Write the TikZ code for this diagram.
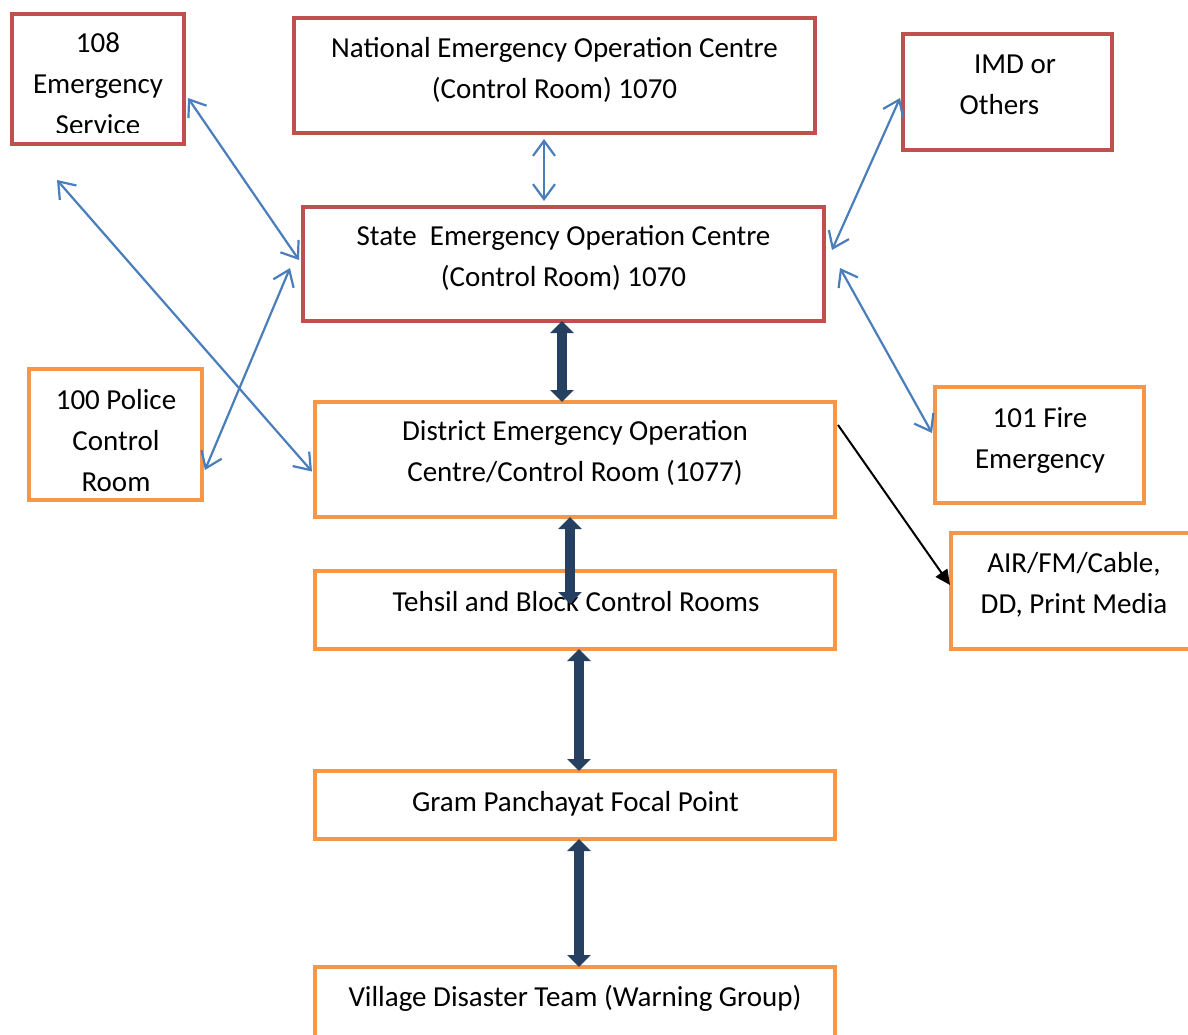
\documentclass[tikz,border=0pt]{standalone}
\usepackage{fontspec}
\setmainfont{Carlito}
\usetikzlibrary{arrows.meta,calc}
\definecolor{boxred}{HTML}{C0504D}
\definecolor{boxorange}{HTML}{F79646}
\definecolor{linkblue}{HTML}{4A7EBB}
\definecolor{navy}{HTML}{264061}
\begin{document}
\begin{tikzpicture}[x=1pt,y=-1pt,
  redbox/.style={draw=boxred,line width=4pt,inner sep=0pt,outer sep=0pt},
  orangebox/.style={draw=boxorange,line width=4pt,inner sep=0pt,outer sep=0pt},
  txt/.style={inner sep=0pt,align=center,anchor=base,font=\fontsize{29pt}{41pt}\selectfont},
  bluearrow/.style={draw=linkblue,line width=2.2pt,{Straight Barb[length=15pt,width=22pt]}-{Straight Barb[length=15pt,width=22pt]}},
  thickarrow/.style={draw=navy,line width=10pt,{Triangle[length=12pt,width=23pt]}-{Triangle[length=12pt,width=23pt]}},
  blackarrow/.style={draw=black,line width=2pt,-{Triangle[length=15pt,width=14pt]}}
]
\useasboundingbox (0,0) rectangle (1188,1034);
% boxes
\node[redbox,minimum width=172pt,minimum height=130pt] (n108) at (98,79) {};
\node[redbox,minimum width=521pt,minimum height=115pt] (nat) at (554.5,75.5) {};
\node[redbox,minimum width=209pt,minimum height=116pt] (imd) at (1007.5,92) {};
\node[redbox,minimum width=521pt,minimum height=114pt] (state) at (563.5,264) {};
\node[orangebox,minimum width=173pt,minimum height=131pt] (police) at (115.5,434.5) {};
\node[orangebox,minimum width=520pt,minimum height=115pt] (dist) at (575,459.5) {};
\node[orangebox,minimum width=209pt,minimum height=116pt] (fire) at (1039.5,445) {};
\node[orangebox,minimum width=249pt,minimum height=116pt] (air) at (1075.5,591) {};
\node[orangebox,minimum width=520pt,minimum height=78pt] (tehsil) at (575,610) {};
\node[orangebox,minimum width=520pt,minimum height=68pt] (gram) at (575,805) {};
\node[orangebox,minimum width=520pt,minimum height=93pt] (village) at (575,1013.5) {};
% texts (base anchor = baseline of last line)
\begin{scope}
\clip (0,0) rectangle (1188,132);
\node[txt] (t108) at (98,134) {108\\Emergency\\Service};
\end{scope}
\node[txt] (tnat) at (554.5,98) {National Emergency Operation Centre\\(Control Room) 1070};
\node[txt] (timd) at (999.5,114) {\hspace*{31pt}IMD or\\Others};
\node[txt] (tstate) at (563.5,286) {State\ \ Emergency Operation Centre\\(Control Room) 1070};
\node[txt] (tpolice) at (116,491) {100 Police\\Control\\Room};
\node[txt] (tdist) at (575,481) {District Emergency Operation\\Centre/Control Room (1077)};
\node[txt] (tfire) at (1040,468) {101 Fire\\Emergency};
\node[txt] (tair) at (1074,613) {AIR/FM/Cable,\\DD, Print Media};
\node[txt] (ttehsil) at (576,611) {Tehsil and Block Control Rooms};
\node[txt] (tgram) at (575.5,811) {Gram Panchayat Focal Point};
\node[txt] (tvillage) at (575,1006) {Village Disaster Team (Warning Group)};
% connectors
\coordinate (free) at (57,180);
\draw[bluearrow] ($(nat.south)+(-10.5,6)$) -- ($(state.north)+(-19.5,-6)$);
\draw[bluearrow] ($(n108.east)+(4,19)$) -- ($(state.west)+(-4,-4)$);
\draw[bluearrow] (free) -- ($(dist.west)+(-3,12)$);
\draw[bluearrow] ($(police.east)+(3,35.5)$) -- ($(state.west)+(-13,4)$);
\draw[bluearrow] ($(imd.west)+(-3,6)$) -- ($(state.east)+(8,-14)$);
\draw[bluearrow] ($(state.east)+(16,4)$) -- ($(fire.west)+(-3,-12)$);
\draw[blackarrow] ($(dist.east)+(3,-34.5)$) -- ($(air.west)+(-1,-6)$);
\draw[thickarrow] ($(state.south)+(-1.5,0)$) -- ($(dist.north)+(-13,0)$);
\draw[thickarrow] ($(dist.south)+(-5,0)$) -- ($(tehsil.north)+(-5,33)$);
\draw[thickarrow] ($(tehsil.south)+(4,0)$) -- ($(gram.north)+(4,0)$);
\draw[thickarrow] ($(gram.south)+(4,0)$) -- ($(village.north)+(4,0)$);
\end{tikzpicture}
\end{document}
